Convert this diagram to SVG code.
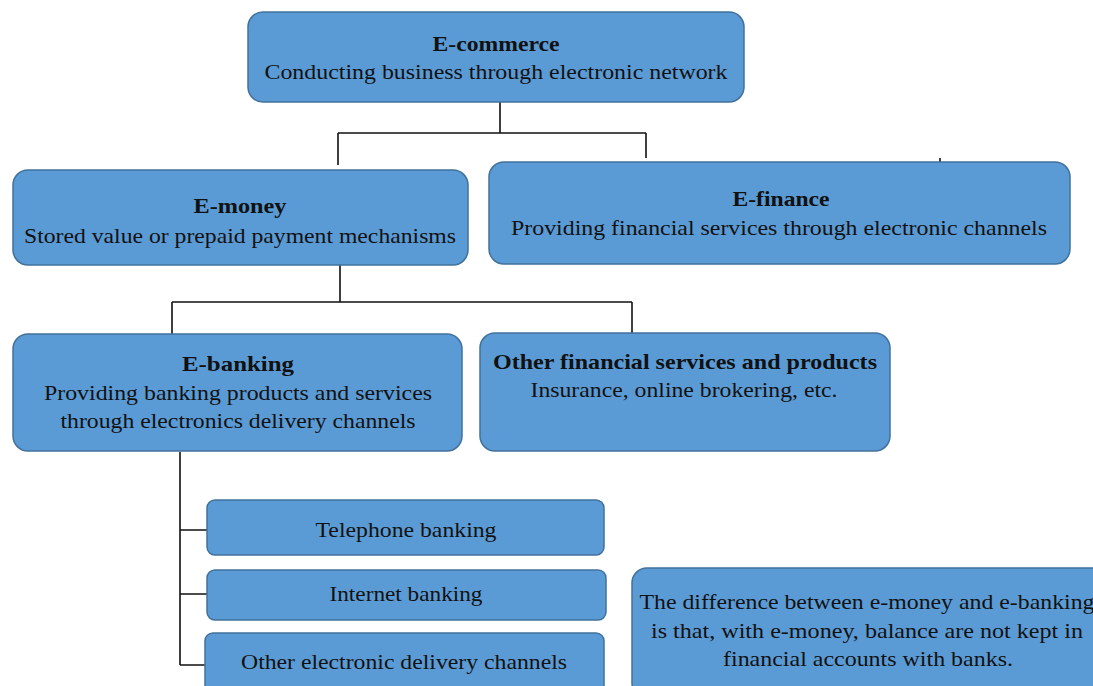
<svg xmlns="http://www.w3.org/2000/svg" width="1093" height="686" viewBox="0 0 1093 686">
<style>
.box{fill:#5B9BD5;stroke:#41719C;stroke-width:1.5}
.t{font-family:"Liberation Serif","Times New Roman",serif;font-size:21px;fill:#111;text-anchor:middle}
.b{font-weight:bold}
.c{fill:none;stroke:#111;stroke-width:1.6}
</style>
<rect width="1093" height="686" fill="#fff"/>
<g id="connectors">
<path class="c" d="M500 102V133M338 133H646M338 133V165M646 133V158"/>
<path class="c" d="M940 158V163"/>
<path class="c" d="M340 265V302M172 302H632M172 302V334M632 302V333"/>
<path class="c" d="M180 452V665M180 530H207M180 594H207M180 665H205"/>
</g>
<g id="ecommerce">
<rect class="box" x="248" y="12" width="496" height="90" rx="15"/>
<text class="t b" x="496" y="51" textLength="127" lengthAdjust="spacingAndGlyphs">E-commerce</text>
<text class="t" x="496" y="79" textLength="463" lengthAdjust="spacingAndGlyphs">Conducting business through electronic network</text>
</g>
<g id="emoney">
<rect class="box" x="13" y="170" width="455" height="95" rx="15"/>
<text class="t b" x="240" y="213" textLength="93" lengthAdjust="spacingAndGlyphs">E-money</text>
<text class="t" x="240" y="243" textLength="432" lengthAdjust="spacingAndGlyphs">Stored value or prepaid payment mechanisms</text>
</g>
<g id="efinance">
<rect class="box" x="489" y="162" width="581" height="102" rx="15"/>
<text class="t b" x="781" y="206" textLength="97" lengthAdjust="spacingAndGlyphs">E-finance</text>
<text class="t" x="779" y="235" textLength="536" lengthAdjust="spacingAndGlyphs">Providing financial services through electronic  channels</text>
</g>
<g id="ebanking">
<rect class="box" x="13" y="334" width="449" height="117" rx="15"/>
<text class="t b" x="238" y="371" textLength="112" lengthAdjust="spacingAndGlyphs">E-banking</text>
<text class="t" x="238" y="400" textLength="388" lengthAdjust="spacingAndGlyphs">Providing banking products and services</text>
<text class="t" x="238" y="428" textLength="355" lengthAdjust="spacingAndGlyphs">through electronics delivery channels</text>
</g>
<g id="other">
<rect class="box" x="480" y="333" width="410" height="118" rx="15"/>
<text class="t b" x="685" y="369" textLength="384" lengthAdjust="spacingAndGlyphs">Other financial services and products</text>
<text class="t" x="684" y="397" textLength="307" lengthAdjust="spacingAndGlyphs">Insurance, online brokering, etc.</text>
</g>
<g id="telephone">
<rect class="box" x="207" y="500" width="397" height="55" rx="8"/>
<text class="t" x="406" y="537" textLength="181" lengthAdjust="spacingAndGlyphs">Telephone banking</text>
</g>
<g id="internet">
<rect class="box" x="207" y="570" width="399" height="50" rx="8"/>
<text class="t" x="406" y="601" textLength="153" lengthAdjust="spacingAndGlyphs">Internet banking</text>
</g>
<g id="otherchannels">
<rect class="box" x="205" y="633" width="399" height="62" rx="8"/>
<text class="t" x="404" y="669" textLength="326" lengthAdjust="spacingAndGlyphs">Other electronic delivery channels</text>
</g>
<g id="difference">
<rect class="box" x="632" y="568" width="480" height="130" rx="15"/>
<text class="t" x="867" y="609" textLength="455" lengthAdjust="spacingAndGlyphs">The difference between e-money and e-banking</text>
<text class="t" x="867" y="638" textLength="432" lengthAdjust="spacingAndGlyphs">is that, with e-money, balance are not kept in</text>
<text class="t" x="868" y="666" textLength="290" lengthAdjust="spacingAndGlyphs">financial accounts with banks.</text>
</g>
</svg>
